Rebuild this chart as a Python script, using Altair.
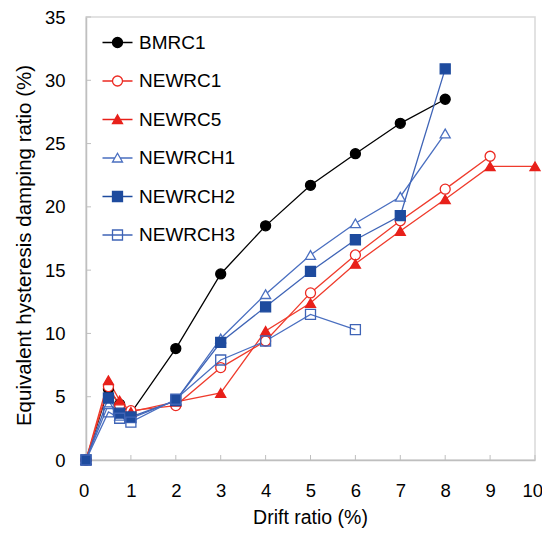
import altair as alt
import pandas as pd

# ---- data ----
drift = [0, 0.5, 0.75, 1, 2, 3, 4, 5, 6, 7, 8, 9, 10]
series_names = ["BMRC1", "NEWRC1", "NEWRC5", "NEWRCH1", "NEWRCH2", "NEWRCH3"]
bmrc1 = [0, 5.6, 4.4, 3.7, 8.8, 14.7, 18.5, 21.7, 24.2, 26.6, 28.5, None, None]
newrc1 = [0, 5.8, 4.3, 3.9, 4.3, 7.3, 9.4, 13.2, 16.2, 18.9, 21.4, 24.0, None]
newrc5 = [0, 6.3, 4.7, 3.8, 4.6, 5.3, 10.2, 12.4, 15.5, 18.1, 20.6, 23.2, 23.2]
newrch1 = [0, 4.4, 3.5, 3.3, 4.7, 9.6, 13.1, 16.2, 18.7, 20.8, 25.8, None, None]
newrch2 = [0, 4.9, 3.7, 3.4, 4.7, 9.3, 12.1, 14.9, 17.4, 19.3, 30.9, None, None]
newrch3 = [0, 3.8, 3.3, 3.0, 4.8, 7.9, 9.4, 11.5, 10.3, None, None, None, None]
x_ticks = list(range(0, 11))
y_ticks = list(range(0, 36, 5))

# ---- styles ----
line_colors = ["#000000", "#ef3b2c", "#ef3b2c", "#4a6fc0", "#3f64b6", "#4a6fc0"]
stroke_colors = ["#000000", "#ec2a22", "#e8201a", "#4a6fc0", "#1e4b9e", "#3f64b6"]
fill_colors = ["#000000", "#ffffff", "#e8201a", "#ffffff", "#1e4b9e", "transparent"]
plot_shapes = ["circle", "circle", "triangle-up", "triangle-up", "square", "square"]
circ = "M-1,0A1,1 0 1,0 1,0A1,1 0 1,0 -1,0Z"
tri = "M0,-0.95L1,0.8L-1,0.8Z"
sq = "M-1,-1H1V1H-1Z"
legend_shapes = [
    "M-3,0H-1M1,0H3" + circ,
    "M-3,0H-1M1,0H3" + circ,
    "M-3,0H-0.6M0.6,0H3" + tri,
    "M-3,0H-0.6M0.6,0H3" + tri,
    "M-3,0H-1M1,0H3" + sq,
    "M-3,0H3" + sq,
]

cols = [bmrc1, newrc1, newrc5, newrch1, newrch2, newrch3]
rows = []
for name, vals in zip(series_names, cols):
    for d, v in zip(drift, vals):
        if v is not None:
            rows.append({"series": name, "drift": d, "value": v})
df = pd.DataFrame(rows)
xt_df = pd.DataFrame({"drift": x_ticks})
yt_df = pd.DataFrame({"value": y_ticks})

FONT = "Liberation Sans"
W, H = 449, 443

xscale = alt.Scale(domain=[0, 10], nice=False, zero=False)
yscale = alt.Scale(domain=[0, 35], nice=False, zero=False)

xaxis = alt.Axis(values=x_ticks, title="Drift ratio (%)", labelPadding=21.5,
                 labelFlush=True, labelFlushOffset=7.5,
                 titleX=224, titleY=63.5, titleBaseline="alphabetic", titleAnchor="middle",
                 titleFontSize=19.5)
yaxis = alt.Axis(values=y_ticks, title="Equivalent hysteresis damping ratio (%)",
                 labelPadding=21, labelFlush=False, titleX=-56, titleY=228,
                 titleBaseline="alphabetic", titleAnchor="middle", titleFontSize=20.5)

lines = alt.Chart(df).mark_line(strokeWidth=1.3).encode(
    x=alt.X("drift:Q", scale=xscale, axis=xaxis),
    y=alt.Y("value:Q", scale=yscale, axis=yaxis),
    color=alt.Color("series:N", scale=alt.Scale(domain=series_names, range=line_colors),
                    legend=None),
    detail="series:N",
)

points = alt.Chart(df).mark_point(size=100, strokeWidth=1.3, opacity=1).encode(
    x=alt.X("drift:Q", scale=xscale),
    y=alt.Y("value:Q", scale=yscale),
    shape=alt.Shape("series:N", scale=alt.Scale(domain=series_names, range=plot_shapes),
                    legend=None),
    stroke=alt.Stroke("series:N", scale=alt.Scale(domain=series_names, range=stroke_colors),
                      legend=None),
    fill=alt.Fill("series:N", scale=alt.Scale(domain=series_names, range=fill_colors),
                  legend=None),
)

leg = dict(title=None, orient="none", legendX=22, legendY=16, padding=0,
           labelFont=FONT, labelFontSize=19, labelColor="#000000", labelOffset=12,
           rowPadding=18.5, symbolSize=100, symbolStrokeWidth=1.3, symbolOpacity=1)

legend_layer = alt.Chart(df).transform_filter("false").mark_point(
    size=100, strokeWidth=1.3, opacity=1).encode(
    x=alt.X("drift:Q", scale=xscale),
    y=alt.Y("value:Q", scale=yscale),
    shape=alt.Shape("series:N", scale=alt.Scale(domain=series_names, range=legend_shapes),
                    legend=alt.Legend(**leg)),
    stroke=alt.Stroke("series:N", scale=alt.Scale(domain=series_names, range=stroke_colors),
                      legend=alt.Legend(**leg)),
    fill=alt.Fill("series:N", scale=alt.Scale(domain=series_names, range=fill_colors),
                  legend=alt.Legend(**leg)),
)

xt = alt.Chart(xt_df).mark_rule(color="#bfbfbf", strokeWidth=1).encode(
    x=alt.X("drift:Q", scale=xscale),
    y=alt.value(H), y2=alt.value(H - 5),
)
yt = alt.Chart(yt_df).mark_rule(color="#bfbfbf", strokeWidth=1).encode(
    y=alt.Y("value:Q", scale=yscale),
    x=alt.value(0), x2=alt.value(5),
)

chart = alt.layer(xt, yt, lines, points, legend_layer).resolve_scale(
    shape="independent", stroke="independent", fill="independent", color="independent"
).properties(
    width=W, height=H,
    autosize=alt.AutoSizeParams(type="none"),
    padding={"left": 78, "top": 9, "right": 7, "bottom": 68},
).configure_view(
    stroke="#d9d9d9", strokeWidth=1.5
).configure_axis(
    grid=False, ticks=False, domainColor="#bfbfbf", domainWidth=1.5,
    labelFont=FONT, labelFontSize=18.5, labelColor="#000000",
    titleFont=FONT, titleColor="#000000", titleFontWeight="normal",
)

chart.save("out.html", embed_options={"renderer": "svg", "actions": False})
